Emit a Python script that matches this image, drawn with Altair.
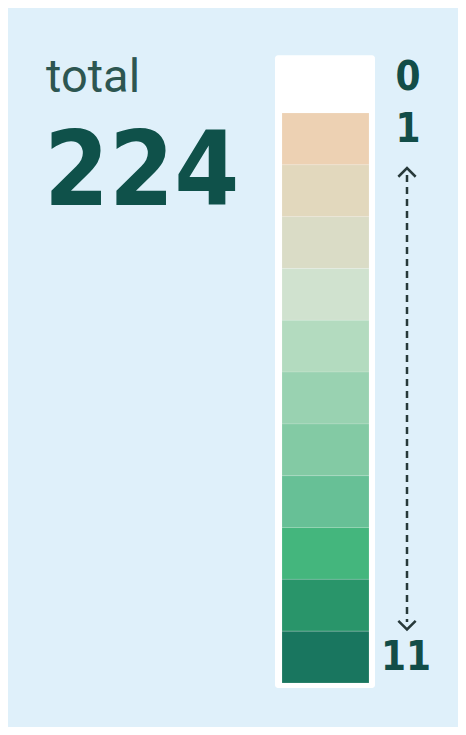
import altair as alt
import pandas as pd

# ---- data ----
counts = list(range(12))
cell_colors = ["#ffffff", "#edd1b3", "#e2d8bd", "#dadcc6", "#d0e2cf", "#b3dbbf",
               "#99d2b1", "#83caa4", "#67c096", "#44b67d", "#29956a", "#19765f"]
top_labels = [0, 1]
bottom_labels = [11]
title_text = ["total"]
total_value = [224]

COND = "DejaVu Sans Condensed, sans-serif"
DARK = "#124d48"

cells = pd.DataFrame({"count": counts})
Y = alt.Scale(domain=[0, 12], range=[53.2, 675])

frame = (
    alt.Chart(cells)
    .transform_aggregate(lo="min(count)", top="max(count)")
    .transform_calculate(hi="datum.top + 1")
    .mark_rect(color="white", cornerRadius=3, yOffset=-6, y2Offset=5)
    .encode(x=alt.value(267), x2=alt.value(367),
            y=alt.Y("lo:Q", scale=Y, axis=None), y2="hi:Q")
)

rects = (
    alt.Chart(cells)
    .transform_calculate(hi="datum.count + 1")
    .mark_rect(stroke="white", strokeOpacity=0.15, strokeWidth=1)
    .encode(x=alt.value(274), x2=alt.value(361),
            y=alt.Y("count:Q", scale=Y, axis=None), y2="hi:Q",
            color=alt.Color("count:O", scale=alt.Scale(domain=counts, range=cell_colors),
                            legend=None))
)

arrow_df = pd.DataFrame({"start": [top_labels[-1]], "end": [bottom_labels[0]]})
arrow_base = alt.Chart(arrow_df).transform_calculate(a="datum.start + 0.5", b="datum.end + 0.5")
arrow = arrow_base.mark_rule(strokeDash=[7, 5], strokeWidth=2.5, color="#27393a",
                             yOffset=36, y2Offset=-35).encode(
    x=alt.value(399), y=alt.Y("a:Q", scale=Y, axis=None), y2="b:Q")
chev_top = arrow_base.mark_point(shape="M-1,0.5L0,-0.5L1,0.5", filled=False, size=300,
                                 strokeWidth=2.5, color="#27393a", opacity=1,
                                 yOffset=33.5).encode(
    x=alt.value(399), y=alt.Y("a:Q", scale=Y, axis=None))
chev_bot = arrow_base.mark_point(shape="M-1,-0.5L0,0.5L1,-0.5", filled=False, size=300,
                                 strokeWidth=2.5, color="#27393a", opacity=1,
                                 yOffset=-32).encode(
    x=alt.value(399), y=alt.Y("b:Q", scale=Y, axis=None))

lab_top = (
    alt.Chart(pd.DataFrame({"count": top_labels}))
    .transform_calculate(mid="datum.count + 0.5")
    .mark_text(font=COND, fontSize=40, fontWeight="bold", color=DARK,
               align="center", baseline="middle", dy=-9)
    .encode(x=alt.value(400), y=alt.Y("mid:Q", scale=Y, axis=None), text="count:Q")
)
lab_bot = (
    alt.Chart(pd.DataFrame({"count": bottom_labels}))
    .transform_calculate(mid="datum.count + 0.5")
    .mark_text(font=COND, fontSize=40, fontWeight="bold", color=DARK,
               align="center", baseline="middle", dy=1)
    .encode(x=alt.value(398), y=alt.Y("mid:Q", scale=Y, axis=None), text="count:Q")
)

head = pd.DataFrame({"label": title_text, "value": total_value})
t1 = alt.Chart(head).mark_text(font="Roboto", fontSize=47, color="#2d5651",
                               align="left", baseline="alphabetic").encode(
    x=alt.value(38), y=alt.value(84), text="label:N")
t2 = alt.Chart(head).mark_text(font=COND, fontSize=104, fontWeight="bold", color="#0f514a",
                               align="left", baseline="alphabetic").encode(
    x=alt.value(36), y=alt.value(197), text="value:Q")

chart = (
    alt.layer(frame, rects, arrow, chev_top, chev_bot, lab_top, lab_bot, t1, t2)
    .properties(width=450, height=719, background="#dff0fa", padding=0, autosize="none")
    .configure_view(stroke=None)
)

chart.save("out.html", embed_options={"renderer": "svg", "actions": False})
